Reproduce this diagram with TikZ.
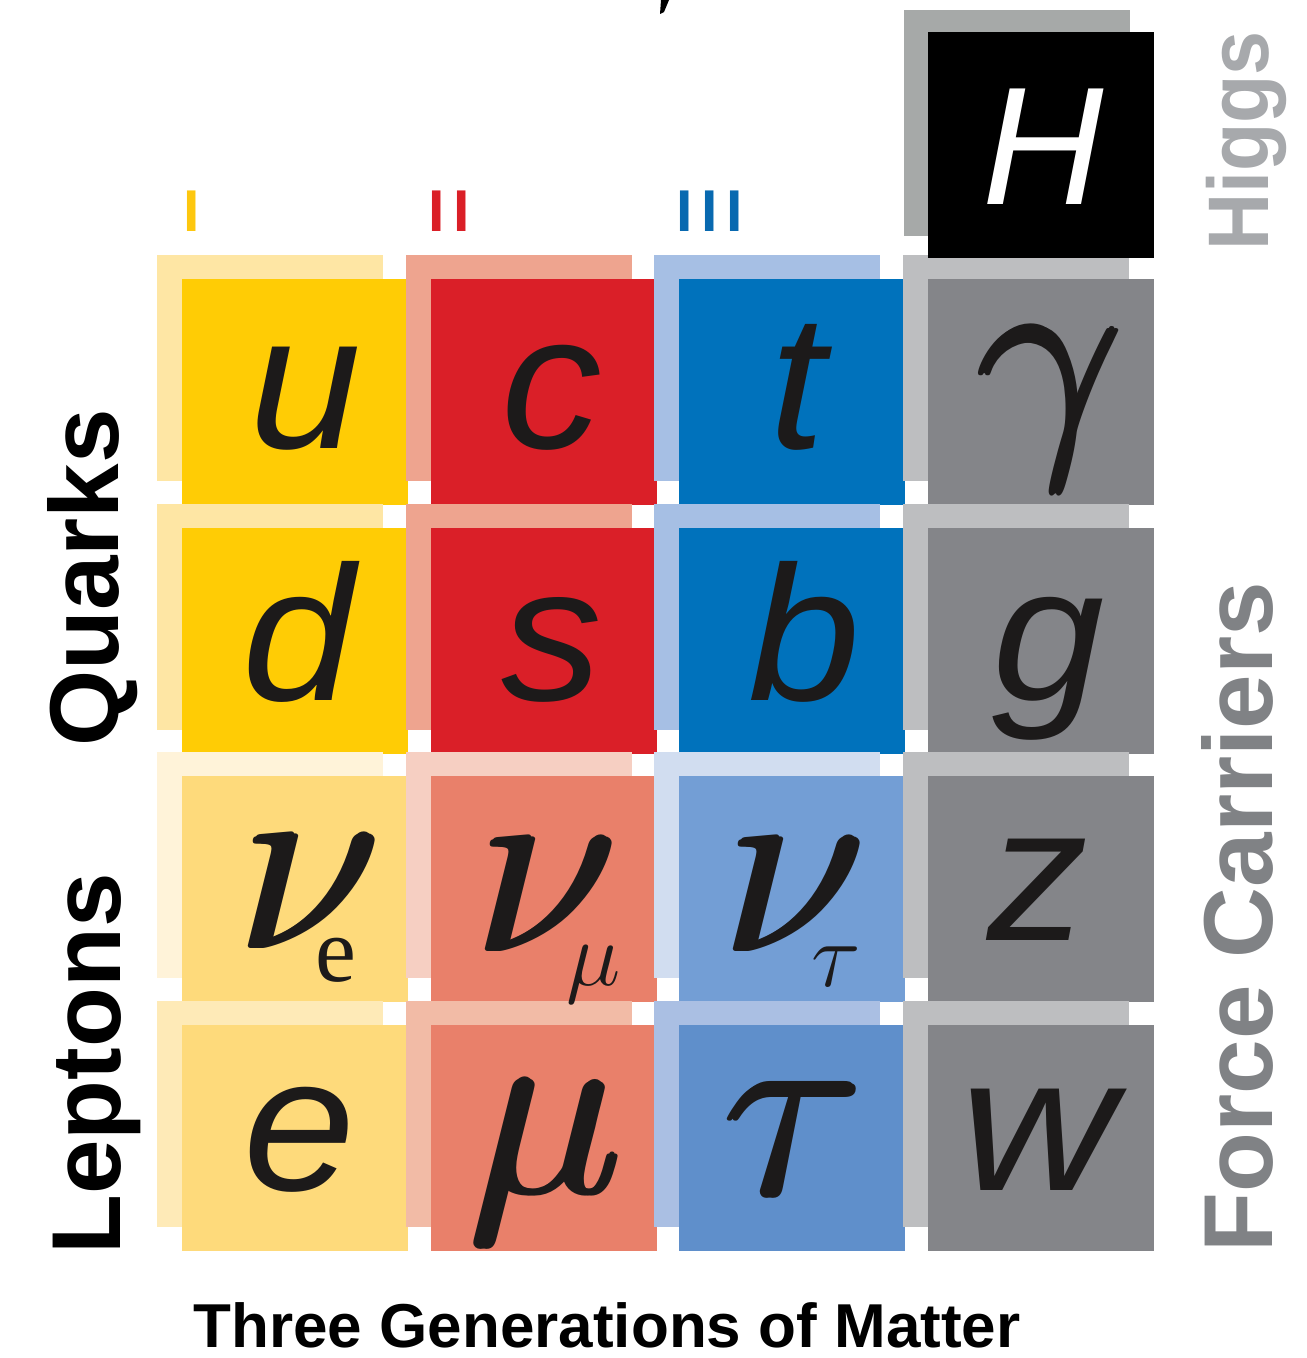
\RequirePackage{fix-cm}
\documentclass[tikz,border=0pt]{standalone}
\usepackage{fontspec}
\setmainfont{Liberation Sans}
\newfontfamily\grkfont{Liberation Serif}
\definecolor{yq}{HTML}{FFCC05}
\definecolor{yqs}{HTML}{FEE6A4}
\definecolor{yl}{HTML}{FEDA7B}
\definecolor{ylsa}{HTML}{FFF3D9}
\definecolor{ylsb}{HTML}{FEEAB7}
\definecolor{rq}{HTML}{DA1F28}
\definecolor{rqs}{HTML}{EEA48F}
\definecolor{rl}{HTML}{E9806A}
\definecolor{rlsa}{HTML}{F6CFC2}
\definecolor{rlsb}{HTML}{F2BBA6}
\definecolor{bq}{HTML}{0072BC}
\definecolor{bqs}{HTML}{A6BFE4}
\definecolor{bla}{HTML}{739ED5}
\definecolor{blsa}{HTML}{D1DDF0}
\definecolor{blb}{HTML}{5F8FCB}
\definecolor{blsb}{HTML}{AABFE3}
\definecolor{gm}{HTML}{848589}
\definecolor{gs}{HTML}{BDBEC0}
\definecolor{higgsgray}{HTML}{A6A9A8}
\definecolor{symcol}{HTML}{1C1A1A}
\definecolor{fclabel}{HTML}{808285}
\definecolor{hlabel}{HTML}{A7A9AC}
\definecolor{genI}{HTML}{FDC70F}
\definecolor{genII}{HTML}{DA1F27}
\definecolor{genIII}{HTML}{0869B0}
\tikzset{
  tilebox/.style={rectangle, minimum size=113pt, inner sep=0pt, outer sep=0pt, anchor=north west},
  latin/.style={anchor=base, inner sep=0pt, font=\fontsize{96}{96}\selectfont\itshape, text=symcol},
  greek/.style={anchor=base, inner sep=0pt, font=\fontsize{130}{130}\selectfont, text=symcol},
  subsym/.style={anchor=base, inner sep=0pt, font=\fontsize{46}{46}\selectfont\grkfont, text=symcol},
  sidelabel/.style={anchor=base, rotate=90, inner sep=0pt, font=\fontsize{49}{49}\selectfont\bfseries},
  genlabel/.style={anchor=base, inner sep=0pt, font=\fontsize{29.5}{29.5}\selectfont\bfseries},
}
\newcommand\partcell[5]{%
  \node[tilebox, fill=#5] (#1-sh) at ({#2-25},{#3-24}) {};
  \node[tilebox, fill=#4] (#1) at (#2,#3) {};
}
\newcommand\heavyglyph[1]{\rlap{#1}\rlap{\kern1.6pt\raisebox{0.8pt}{#1}}\kern3.2pt#1}
\newcommand\widelatin[1]{\scalebox{1.05}[1]{#1}}
\begin{document}
\begin{tikzpicture}[x=0.5pt, y=-0.5pt]
\useasboundingbox (0,0) rectangle (1306,1358);
% grid of particle cells
\partcell{cu}{182}{279}{yq}{yqs}
\partcell{cc}{430.5}{279}{rq}{rqs}
\partcell{ct}{679}{279}{bq}{bqs}
\partcell{cgam}{927.5}{279}{gm}{gs}
\partcell{cd}{182}{528}{yq}{yqs}
\partcell{cs}{430.5}{528}{rq}{rqs}
\partcell{cb}{679}{528}{bq}{bqs}
\partcell{cg}{927.5}{528}{gm}{gs}
\partcell{cnue}{182}{776}{yl}{ylsa}
\partcell{cnum}{430.5}{776}{rl}{rlsa}
\partcell{cnut}{679}{776}{bla}{blsa}
\partcell{cz}{927.5}{776}{gm}{gs}
\partcell{ce}{182}{1025}{yl}{ylsb}
\partcell{cmu}{430.5}{1025}{rl}{rlsb}
\partcell{ctau}{679}{1025}{blb}{blsb}
\partcell{cw}{927.5}{1025}{gm}{gs}
% Higgs
\node[tilebox, fill=higgsgray] (higgs-sh) at (904,10) {};
\node[tilebox, fill=black] (higgs) at (928,32) {};
\node[anchor=base, inner sep=0pt, font=\fontsize{84}{84}\selectfont\itshape, text=white] (hsym) at (1043,205) {H};
% symbols
\node[latin] (su) at (306,448) {\widelatin{u}};
\node[latin] (sc) at (552,448) {\widelatin{c}};
\node[latin] (st) at (797,448) {\widelatin{t}};
\node[greek] (sgam) at (1050,440) {\heavyglyph{$\gamma$}};
\node[latin] (sd) at (299,700) {\widelatin{d}};
\node[latin] (ss) at (552,700) {\widelatin{s}};
\node[latin] (sb) at (805,700) {\widelatin{b}};
\node[latin] (sg) at (1049,700) {\widelatin{g}};
\node[greek] (snue) at (309,948) {\heavyglyph{$\nu$}};
\node[subsym] (snue-sub) at (336,981) {e};
\node[greek] (snum) at (546,951) {\heavyglyph{$\nu$}};
\node[subsym] (snum-sub) at (594,985) {$\mu$};
\node[greek] (snut) at (794,951) {\heavyglyph{$\nu$}};
\node[subsym] (snut-sub) at (836,986) {$\tau$};
\node[latin] (sz) at (1038,940) {\widelatin{z}};
\node[latin] (se) at (300,1190) {\widelatin{e}};
\node[greek] (smu) at (546,1193) {\heavyglyph{$\mu$}};
\node[greek] (stau) at (793,1195) {\heavyglyph{$\tau$}};
\node[latin] (sw) at (1038,1190) {\scalebox{1.12}[1]{w}};
% generation numerals
\node[genlabel, text=genI] (gen1) at (192,232) {I};
\node[genlabel, text=genII] (gen2) at (449.5,232) {I\kern4.3pt I};
\node[genlabel, text=genIII] (gen3) at (710,232) {I\kern4.3pt I\kern4.3pt I};
% side labels
\node[sidelabel, text=black] (quarks) at (118,578) {Quarks};
\node[sidelabel, text=black] (leptons) at (120,1064) {Leptons};
\node[sidelabel, text=fclabel] (forcecarriers) at (1272,917) {Force Carriers};
\node[sidelabel, text=hlabel, font=\fontsize{43}{43}\selectfont\bfseries] (higgslabel) at (1268,141) {\scalebox{0.92}[1]{Higgs}};
\node[anchor=base, inner sep=0pt, font=\fontsize{31}{31}\selectfont\bfseries] (bottomtitle) at (607,1347) {Three Generations of Matter};
% cut-off mark at top edge
\fill[black] (661,0) -- (669,0) -- (664,12) -- (660,14) -- cycle;
\end{tikzpicture}
\end{document}
